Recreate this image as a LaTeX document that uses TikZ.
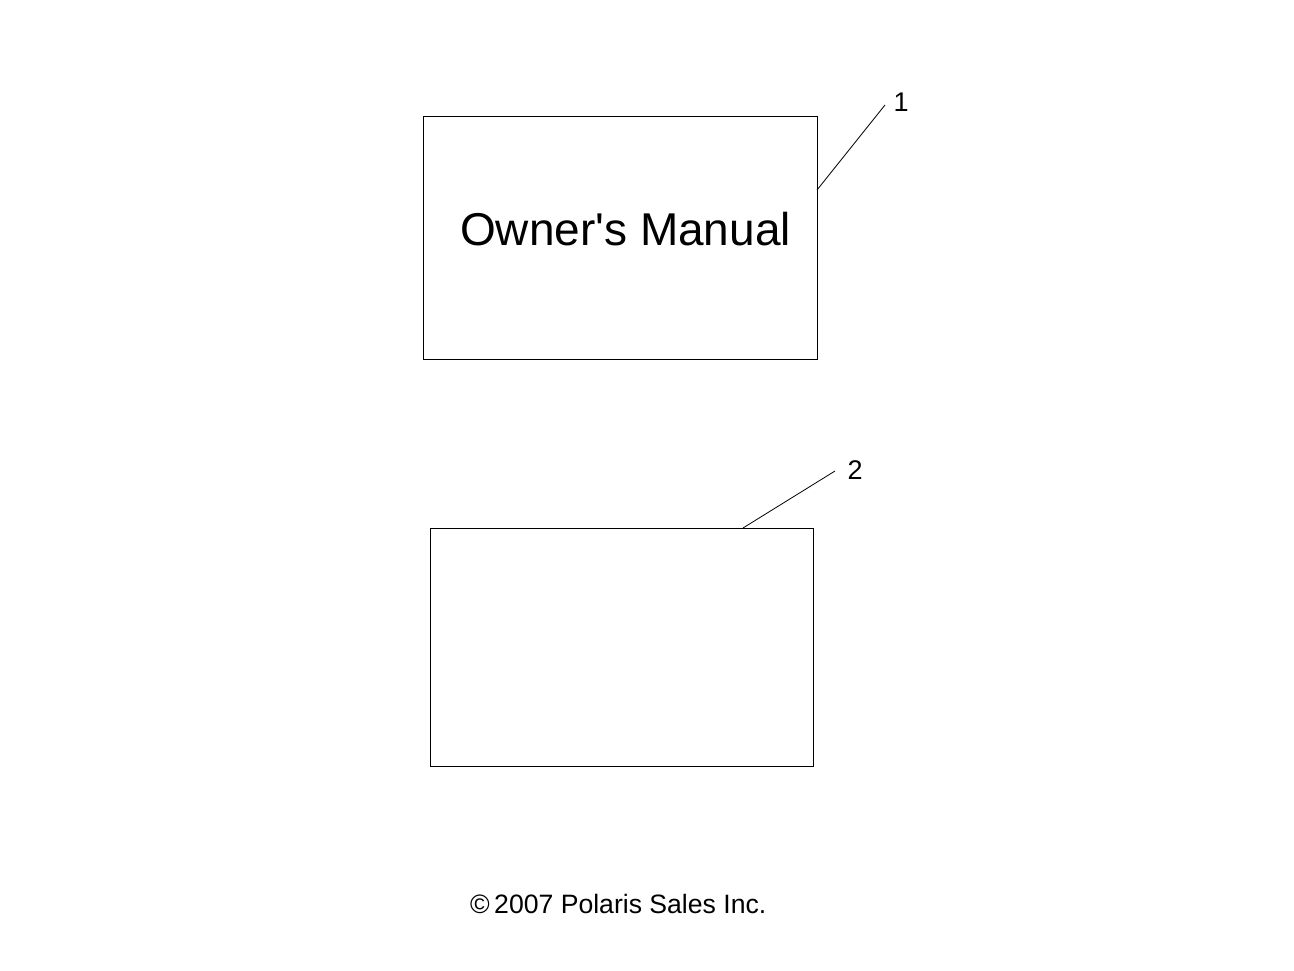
\documentclass[tikz,border=0pt]{standalone}
\usepackage{fontspec}
\setmainfont{Liberation Sans}
\begin{document}
\begin{tikzpicture}[x=1pt,y=-1pt,
  box/.style={draw=black,line width=1pt,inner sep=0pt,anchor=north west},
  leader/.style={draw=black,line width=0.8pt},
  callout/.style={inner sep=0pt,anchor=base,font=\fontsize{27}{27}\selectfont}]
\useasboundingbox[fill=white] (0,0) rectangle (1294,971);
% box 1
\node[box,minimum width=394pt,minimum height=243pt] (box1) at (423,116) {};
\node[inner sep=0pt,anchor=base,font=\fontsize{46}{46}\selectfont] (title) at (625.5,245) {Owner\textquotesingle s Manual};
% box 2
\node[box,minimum width=383pt,minimum height=238pt] (box2) at (430,528) {};
% callouts
\node[callout] (n1) at (901,112) {1};
\node[callout] (n2) at (855,479) {2};
\coordinate (l1a) at (817,190);
\coordinate (l1b) at (885,105);
\coordinate (l2a) at (743,528);
\coordinate (l2b) at (835,471);
\draw[leader] (l1a) -- (l1b);
\draw[leader] (l2a) -- (l2b);
% copyright
\node[inner sep=0pt,anchor=base west,font=\fontsize{26.6}{27}\selectfont] (copy) at (470,913) {\textcopyright\,2007 Polaris Sales Inc.};
\end{tikzpicture}
\end{document}
